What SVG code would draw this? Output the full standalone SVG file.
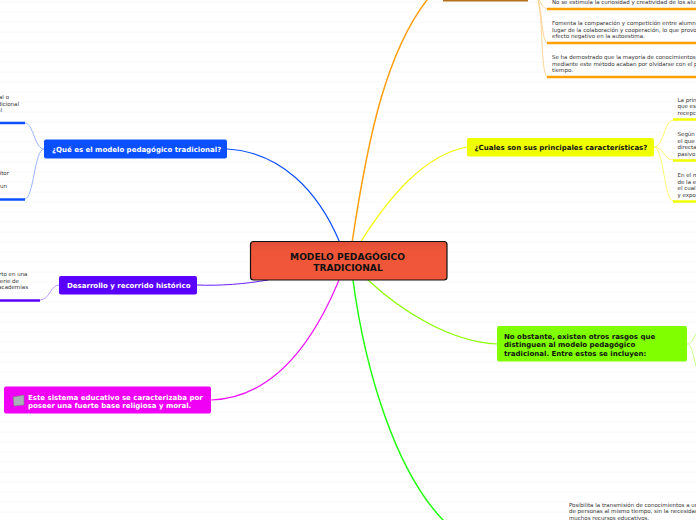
<svg xmlns="http://www.w3.org/2000/svg" width="696" height="520" viewBox="0 0 696 520">
<style>
text{font-family:"DejaVu Sans",Verdana,sans-serif}
.t{font-size:5.5px;fill:#333}
.e{text-anchor:end}
.m{font-size:7px;font-weight:bold}
.r{font-size:9.1px;font-weight:bold;fill:#111;text-anchor:middle}
.c{fill:none;stroke-linecap:round}
.u{fill:none;stroke-width:2.5}
</style>
<defs>
<pattern id="stripes" width="10" height="10" patternUnits="userSpaceOnUse"><rect y="1.500" width="10" height="1.200" fill="#f9f9f9"/></pattern>
<linearGradient id="rootfill" x1="0" y1="0" x2="0" y2="1"><stop offset="0" stop-color="#e04f36"/><stop offset=".25" stop-color="#ef5638"/><stop offset="1" stop-color="#f0573a"/></linearGradient>
</defs>
<rect width="696" height="520" fill="#fff"/>
<rect width="696" height="520" fill="url(#stripes)"/>
<g id="connectors">
<path class="c" stroke="#0a50ff" stroke-width="1.200" d="M227 149C280 152 318 190 340 243"/>
<path class="c" stroke="#ff9f10" stroke-width="1.500" d="M352 243C366 150 385 40 440 -15"/>
<path class="c" stroke="#f4ff00" stroke-width="1.200" d="M360 243C390 195 425 155 467 147"/>
<path class="c" stroke="#8cff00" stroke-width="1.200" d="M368 280C400 310 450 342 497 344"/>
<path class="c" stroke="#22ff10" stroke-width="1.500" d="M353 280C365 370 395 470 443 520"/>
<path class="c" stroke="#f010ff" stroke-width="1.200" d="M339 280C310 350 270 398 211 400"/>
<path class="c" stroke="#6a1bff" stroke-width="1" d="M197 285C220 286 245 284 268 280"/>
<path class="c" stroke="#8fb0ff" stroke-width=".9" d="M44 149C34 149 34 123 25 123M44 149C34 149 34 199 25 199"/>
<path class="c" stroke="#b58fff" stroke-width=".9" d="M59 285C50 285 50 300 40 300"/>
<path class="c" stroke="#ffcf8a" stroke-width=".9" d="M537 -4C541 3 543 8 547 9M537 -4C543 12 541 40 547 43M537 -4C544 20 540 70 547 77"/>
<path class="c" stroke="#fbff60" stroke-width=".9" d="M654 147C664 147 664 120 673 120M654 147C664 147 664 160 673 160M654 147C664 147 664 201 673 201"/>
<path class="c" stroke="#c8ff8a" stroke-width="1" d="M687 344C692 344 692 340 696 334M687 344C692 344 692 352 696 366"/>
</g>
<g id="n-root">
<rect x="250.500" y="241.500" width="196.500" height="38.500" rx="3" fill="url(#rootfill)" stroke="#111" stroke-width="1.200"/>
<text x="347.500" y="259.500" class="r">MODELO PEDAGÓGICO</text>
<text x="348" y="270.500" class="r">TRADICIONAL</text>
</g>
<g id="n-que">
<rect x="44" y="139.500" width="183" height="19" rx="2" fill="#0a50ff"/>
<text x="52" y="152" class="m" fill="#fff">¿Qué es el modelo pedagógico tradicional?</text>
</g>
<g id="n-que-1">
<text class="t e" x="9" y="99">al o</text><text class="t e" x="19" y="105.500">dicional</text><text class="t e" x="2" y="112">al</text>
<path class="u" stroke="#0a50ff" d="M0 123H25"/>
</g>
<g id="n-que-2">
<text class="t e" x="9" y="175">itor</text><text class="t e" x="7" y="188">un</text>
<path class="u" stroke="#0a50ff" d="M0 199.500H25"/>
</g>
<g id="n-hist">
<rect x="59" y="276" width="138" height="18.500" rx="2" fill="#5a00ff"/>
<text x="67" y="288" class="m" fill="#fff">Desarrollo y recorrido histórico</text>
</g>
<g id="n-hist-1">
<text class="t e" x="27.500" y="276">rto en una</text><text class="t e" x="19" y="282.500">serie de</text><text class="t e" x="28" y="289">academias</text>
<path class="u" stroke="#5a00ff" d="M0 300.500H40"/>
</g>
<g id="n-sist">
<rect x="4" y="386.500" width="207" height="27" rx="2" fill="#f000f5"/>
<path d="M13 397L24 395V405L14 406Z" fill="#a9b0ba" stroke="#777" stroke-width=".5"/>
<text x="28" y="399.500" class="m" fill="#fff">Este sistema educativo se caracterizaba por</text>
<text x="28" y="407.500" class="m" fill="#fff">poseer una fuerte base religiosa y moral.</text>
</g>
<g id="n-top">
<rect x="443" y="-20" width="85" height="21.500" fill="#b5701c"/>
</g>
<g id="n-top-1">
<text class="t" x="552" y="4">No se estimula la curiosidad y creatividad de los alumnos.</text>
<path class="u" stroke="#ff9f00" d="M547 9H696"/>
</g>
<g id="n-top-2">
<text class="t" x="552" y="25">Fomenta la comparación y competición entre alumnos en</text>
<text class="t" x="552" y="31.500">lugar de la colaboración y cooperación, lo que provoca un</text>
<text class="t" x="552" y="38">efecto negativo en la autoestima.</text>
<path class="u" stroke="#ff9f00" d="M547 43H696"/>
</g>
<g id="n-top-3">
<text class="t" x="552" y="59">Se ha demostrado que la mayoría de conocimientos adquiridos</text>
<text class="t" x="552" y="65.500">mediante este método acaban por olvidarse con el paso del</text>
<text class="t" x="552" y="72">tiempo.</text>
<path class="u" stroke="#ff9f00" d="M547 77H696"/>
</g>
<g id="n-car">
<rect x="467" y="138" width="187" height="18.500" rx="2" fill="#f0ff00"/>
<text x="474.500" y="150" class="m" fill="#111">¿Cuales son sus principales características?</text>
</g>
<g id="n-car-1">
<text class="t" x="677.500" y="101.500">La principal</text><text class="t" x="677.500" y="108">que es</text><text class="t" x="677.500" y="114.500">recepción</text>
<path class="u" stroke="#f0ff00" d="M673 119.500H696"/>
</g>
<g id="n-car-2">
<text class="t" x="677.500" y="136">Según</text><text class="t" x="677.500" y="142.500">el que</text><text class="t" x="677.500" y="149">directa</text><text class="t" x="677.500" y="155.500">pasivo</text>
<path class="u" stroke="#f0ff00" d="M673 160.500H696"/>
</g>
<g id="n-car-3">
<text class="t" x="677.500" y="177">En el m</text><text class="t" x="677.500" y="183.500">de la e</text><text class="t" x="677.500" y="190">el cual</text><text class="t" x="677.500" y="196.500">y expo</text>
<path class="u" stroke="#f0ff00" d="M673 201.500H696"/>
</g>
<g id="n-obs">
<rect x="497" y="326" width="190" height="35.500" rx="2" fill="#80ff00"/>
<text x="504" y="338.500" class="m" fill="#111">No obstante, existen otros rasgos que</text>
<text x="504" y="347" class="m" fill="#111">distinguen al modelo pedagógico</text>
<text x="504" y="355.500" class="m" fill="#111">tradicional. Entre estos se incluyen:</text>
</g>
<g id="n-bot-1">
<text class="t" x="569" y="507">Posibilita la transmisión de conocimientos a un gran número</text>
<text class="t" x="569" y="513">de personas al mismo tiempo, sin la necesidad de utilizar</text>
<text class="t" x="569" y="520">muchos recursos educativos.</text>
</g>
</svg>
